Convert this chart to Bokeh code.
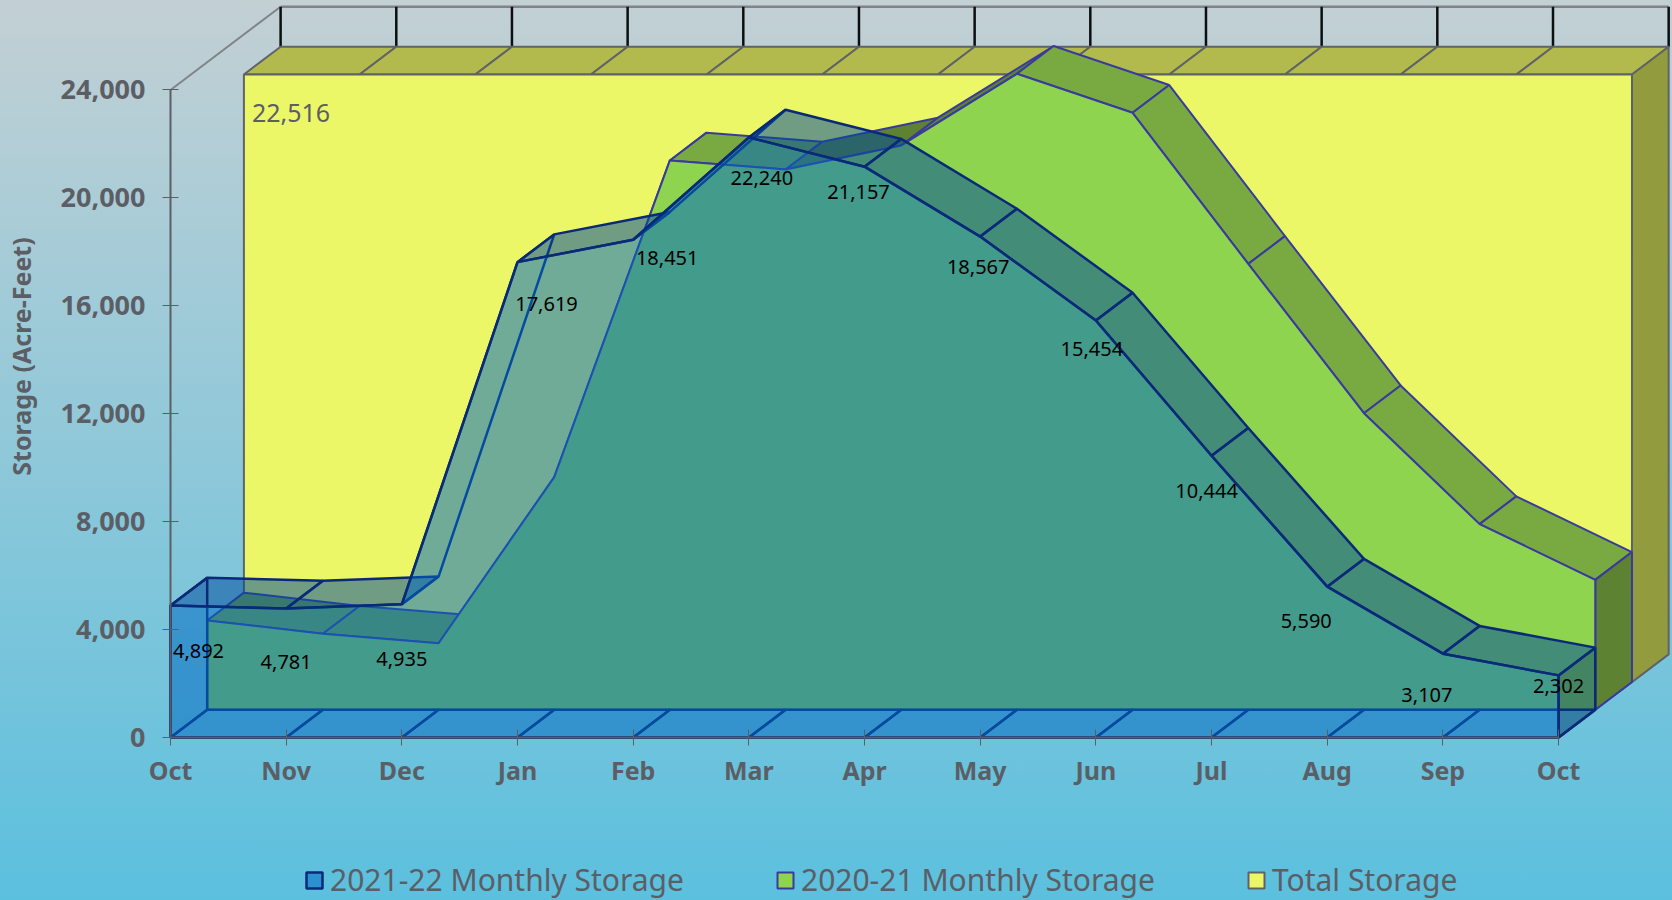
from math import pi
from bokeh.plotting import figure
from bokeh.embed import file_html
from bokeh.resources import INLINE
from bokeh.core.properties import value
from bokeh.models import ColumnDataSource, FixedTicker, Label, Legend, LegendItem, Range1d

months = ["Oct", "Nov", "Dec", "Jan", "Feb", "Mar", "Apr", "May", "Jun", "Jul", "Aug", "Sep", "Oct"]
storage_2021_22 = [4892, 4781, 4935, 17619, 18451, 22240, 21157, 18567, 15454, 10444, 5590, 3107, 2302]
storage_2020_21 = [3310, 2815, 2465, 8620, 20360, 20025, 20915, 23570, 22125, 16525, 10990, 6880, 4815]
total_storage = [22516] * 13
y_ticks = [0, 4000, 8000, 12000, 16000, 20000, 24000]

# Pseudo-3D depth of one series layer, in axis units
DX, DY = 0.3173, 1029
TOP = 24000
idx = list(range(len(months)))
FONT = "Noto Sans"
GREY = "#5c5e66"

# Screen offsets of the value labels from their points
label_dx = [28, 0, 0, 29, 34, 13, -6, -2, -4, -5, -21, -16, 0]
label_dy = [45, 53, 55, 42, 18, 41, 25, 30, 28, 35, 34, 41, 11]

p = figure(width=1672, height=900, output_backend="svg", toolbar_location=None,
           x_range=Range1d(-1.4697, 12.985), y_range=Range1d(-6041.5, 27316.5),
           min_border=0,
           background_fill_alpha=0, border_fill_alpha=0, outline_line_alpha=0,
           styles={"position": "absolute", "left": "0", "top": "0",
                   "background": "linear-gradient(180deg,#C3D0D4 0%,#5BC0DE 100%)"})
p.grid.visible = False

p.xaxis.fixed_location = 0
p.yaxis.fixed_location = 0
p.xaxis.bounds = (0, 12)
p.xaxis.ticker = FixedTicker(ticks=idx)
p.xaxis.major_label_overrides = {i: m for i, m in enumerate(months)}
p.yaxis.bounds = (0, 24000)
p.yaxis.ticker = FixedTicker(ticks=y_ticks)
p.yaxis.major_label_overrides = {t: f"{t:,}" for t in y_ticks}
for ax in (p.xaxis, p.yaxis):
    ax.axis_line_color = GREY
    ax.axis_line_width = 2
    ax.major_tick_line_color = GREY
    ax.major_tick_line_width = 1
    ax.major_tick_in = 8
    ax.major_tick_out = 8
    ax.minor_tick_line_color = None
    ax.major_label_text_font = FONT
    ax.major_label_text_font_style = "bold"
    ax.major_label_text_color = GREY
p.xaxis.major_label_text_font_size = "25px"
p.yaxis.major_label_text_font_size = "27px"
p.xaxis.major_label_standoff = 7
p.yaxis.major_label_standoff = 17

p.add_layout(Label(x=20, y=544, x_units="screen", y_units="screen", angle=pi / 2,
                   text="Storage (Acre-Feet)", text_font=FONT, text_font_style="bold",
                   text_font_size="25px", text_color=GREY,
                   text_align="center", text_baseline="middle"))


def layer(values, depth, face, mid, dark, side, line, lw=2, alpha=1.0, cull=False, left_end=False):
    """Side faces and top faces of a series, then its front face, all at layer `depth`."""
    x0 = [i + depth * DX for i in idx]
    y0 = [v + depth * DY for v in values]
    base = depth * DY
    xs, ys, fills, alphas = [], [], [], []
    for i in idx[:-1]:
        rising = values[i + 1] > values[i]
        hidden = cull and (values[i + 1] - values[i]) > DY / DX
        xs.append([x0[i], x0[i + 1], x0[i + 1] + DX, x0[i] + DX])
        ys.append([y0[i], y0[i + 1], y0[i + 1] + DY, y0[i] + DY])
        fills.append(dark if rising else mid)
        alphas.append(0 if hidden else alpha)
    # floor: outline only, the front face already covers it
    for i in idx[:-1]:
        xs.append([x0[i], x0[i + 1], x0[i + 1] + DX, x0[i] + DX])
        ys.append([base, base, base + DY, base + DY])
        fills.append(mid)
        alphas.append(0)
    if left_end:
        xs.append([x0[0], x0[0] + DX, x0[0] + DX, x0[0]])
        ys.append([base, base + DY, y0[0] + DY, y0[0]])
        fills.append(mid)
        alphas.append(0)
    p.patches(xs, ys, fill_color=fills, fill_alpha=alphas, line_color=line, line_width=lw)
    # right end
    p.patch([x0[-1], x0[-1] + DX, x0[-1] + DX, x0[-1]],
            [base, base + DY, y0[-1] + DY, y0[-1]],
            fill_color=side, fill_alpha=alpha, line_color=line, line_width=lw)
    return p.patch([x0[0]] + x0 + [x0[-1]], [base] + y0 + [base],
                   fill_color=face, fill_alpha=alpha, line_color=line, line_width=lw)


# Back wall
wall_top = TOP + 3 * DY
p.line([0, 3 * DX], [TOP, wall_top], line_color="#808488", line_width=2)
p.line([3 * DX, 12 + 3 * DX], [wall_top, wall_top], line_color="#808488", line_width=2.5)
p.multi_line([[i + 3 * DX, i + 3 * DX] for i in idx],
             [[total_storage[i] + 3 * DY, wall_top] for i in idx],
             line_color="#0b0f12", line_width=2.5)

r_total = layer(total_storage, 2, "#ECF767", "#B2B94D", "#B2B94D", "#939B3F", "#5f6368")
r_2021 = layer(storage_2020_21, 1, "#8FD44F", "#78AA41", "#5D8232", "#5D8232", "#3A3A9E")
r_2122 = layer(storage_2021_22, 0, "#0068C0", "#004C9C", "#004C9C", "#003E73", "#0A2A78",
               lw=2.5, alpha=0.53, cull=True, left_end=True)

labels = ColumnDataSource(dict(x=idx, y=storage_2021_22,
                               t=[f"{v:,}" for v in storage_2021_22],
                               dx=label_dx, dy=label_dy))
p.text("x", "y", text="t", source=labels, x_offset="dx", y_offset="dy",
       text_font=value(FONT), text_font_size="20px", text_color="#000000",
       text_align="center", text_baseline="middle")
p.text([2 * DX], [total_storage[0] + 2 * DY], text=[f"{total_storage[0]:,}"], x_offset=8, y_offset=39,
       text_font=value(FONT), text_font_size="25px", text_color=GREY,
       text_align="left", text_baseline="middle")

legend = Legend(items=[LegendItem(label="2021-22 Monthly Storage", renderers=[r_2122]),
                       LegendItem(label="2020-21 Monthly Storage", renderers=[r_2021]),
                       LegendItem(label="Total Storage", renderers=[r_total])],
                orientation="horizontal", location=(304, 0), padding=0, margin=0,
                spacing=91, glyph_width=20, glyph_height=20, label_standoff=6,
                background_fill_alpha=0, border_line_alpha=0,
                label_text_font=FONT, label_text_font_size="30px", label_text_color=GREY)
p.add_layout(legend, "center")

open("out.html", "w").write(file_html(p, INLINE))
